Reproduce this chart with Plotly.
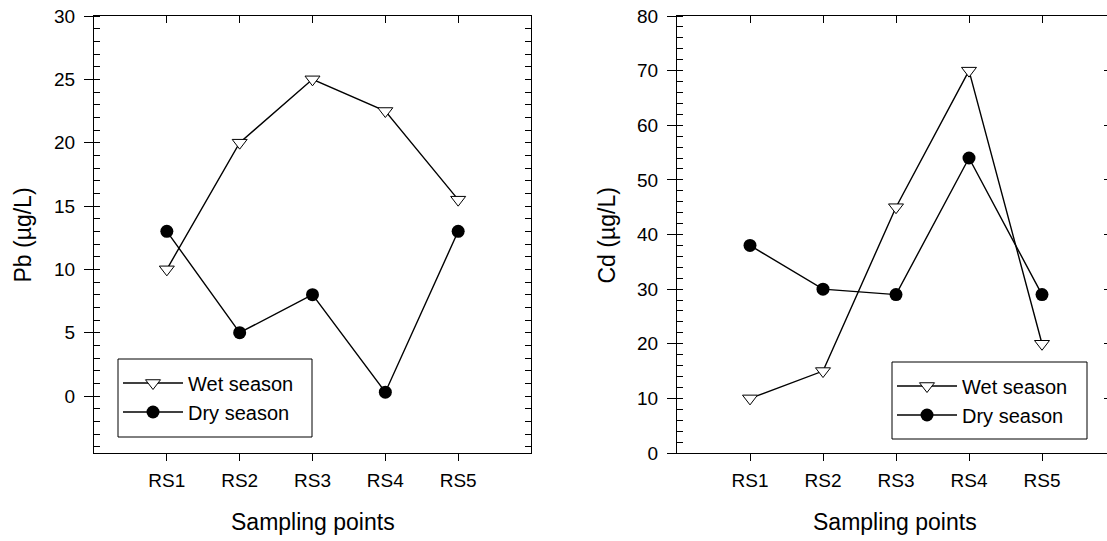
import plotly.graph_objects as go

W, H = 1107, 541

sites = ["RS1", "RS2", "RS3", "RS4", "RS5"]
site_pos = [1, 2, 3, 4, 5]

pb_wet = [10, 20, 25, 22.5, 15.5]
pb_dry = [13, 5, 8, 0.3, 13]

cd_wet = [10, 15, 45, 70, 20]
cd_dry = [38, 30, 29, 54, 29]

FONT = "Liberation Sans, Arial, sans-serif"
TICKF = 19
TITLEF = 23
LEGF = 20

def px(x):
    return x / W

def py(y):
    return 1 - y / H

L_dom = [px(94), px(531)]
R_dom = [px(677), 1.0]
Y_dom = [py(453), py(16)]

wet_marker = dict(symbol="triangle-down", size=13, color="white", line=dict(color="black", width=1))
dry_marker = dict(symbol="circle", size=13, color="black", line=dict(color="black", width=0))
line_style = dict(color="black", width=1.4)

fig = go.Figure()
fig.add_trace(go.Scatter(x=site_pos, y=pb_wet, mode="lines+markers", name="Wet season",
                         marker=wet_marker, line=line_style, xaxis="x", yaxis="y", legend="legend"))
fig.add_trace(go.Scatter(x=site_pos, y=pb_dry, mode="lines+markers", name="Dry season",
                         marker=dry_marker, line=line_style, xaxis="x", yaxis="y", legend="legend"))
fig.add_trace(go.Scatter(x=site_pos, y=cd_wet, mode="lines+markers", name="Wet season",
                         marker=wet_marker, line=line_style, xaxis="x2", yaxis="y2", legend="legend2"))
fig.add_trace(go.Scatter(x=site_pos, y=cd_dry, mode="lines+markers", name="Dry season",
                         marker=dry_marker, line=line_style, xaxis="x2", yaxis="y2", legend="legend2"))

# empty traces so the frame (top / right) axes are drawn
for xa, ya in [("x3", "y"), ("x", "y3"), ("x4", "y2"), ("x2", "y4")]:
    fig.add_trace(go.Scatter(x=[], y=[], xaxis=xa, yaxis=ya, showlegend=False, hoverinfo="skip"))

tickfont = dict(family=FONT, size=TICKF, color="black")
xr_left = [0, 6]
xr_right = [0, (1107 - 677) / 73.0]
yr_left = [-4.5, 30]
yr_right = [0, 80]

common_x = dict(tickmode="array", tickvals=site_pos, ticktext=sites, showgrid=False, zeroline=False,
                showline=True, linecolor="black", linewidth=1, tickcolor="black", tickwidth=1,
                tickfont=tickfont, fixedrange=True, automargin=False)

fig.update_layout(
    template="none",
    width=W, height=H, autosize=False,
    margin=dict(l=0, r=0, t=0, b=0, pad=0),
    paper_bgcolor="white", plot_bgcolor="white",
    font=dict(family=FONT, color="black"),
    xaxis=dict(common_x, domain=L_dom, range=xr_left, anchor="y", ticks="outside", ticklen=7,
               ticklabelstandoff=3),
    xaxis2=dict(common_x, domain=R_dom, range=xr_right, anchor="y2", ticks="outside", ticklen=7,
                ticklabelstandoff=3),
    xaxis3=dict(common_x, overlaying="x", anchor="y", side="top", range=xr_left,
                ticks="inside", ticklen=7, showticklabels=False),
    xaxis4=dict(common_x, overlaying="x2", anchor="y2", side="top", range=xr_right,
                ticks="inside", ticklen=7, showticklabels=False),
    yaxis=dict(domain=Y_dom, range=yr_left, anchor="x", tickmode="array", tickvals=[0, 5, 10, 15, 20, 25, 30],
               ticks="outside", ticklen=9, tickcolor="black", showline=True, linecolor="black",
               showgrid=False, zeroline=False, tickfont=tickfont, fixedrange=True, automargin=False,
               ticklabelstandoff=5,
               minor=dict(ticks="inside", tickmode="linear", tick0=0, dtick=1, ticklen=6,
                          tickcolor="black", showgrid=False)),
    yaxis2=dict(domain=Y_dom, range=yr_right, anchor="x2", tickmode="linear", tick0=0, dtick=10,
                ticks="outside", ticklen=9, tickcolor="black", showline=True, linecolor="black",
                showgrid=False, zeroline=False, tickfont=tickfont, fixedrange=True, automargin=False,
                ticklabelstandoff=5,
                minor=dict(ticks="inside", tickmode="linear", tick0=0, dtick=2, ticklen=6,
                           tickcolor="black", showgrid=False)),
    yaxis3=dict(overlaying="y", anchor="x", side="right", range=yr_left, tickmode="linear", tick0=0, dtick=1,
                ticks="inside", ticklen=6, tickcolor="black", showline=True, linecolor="black",
                showgrid=False, zeroline=False, showticklabels=False, fixedrange=True, automargin=False),
    yaxis4=dict(overlaying="y2", anchor="x2", side="right", range=yr_right, tickmode="linear", tick0=0, dtick=10,
                ticks="inside", ticklen=3, tickcolor="black", showline=False,
                showgrid=False, zeroline=False, showticklabels=False, fixedrange=True, automargin=False),
    legend=dict(x=px(118), y=py(363.5), xanchor="left", yanchor="top", bgcolor="rgba(0,0,0,0)",
                borderwidth=0, font=dict(family=FONT, size=LEGF, color="black"),
                tracegroupgap=0, itemwidth=60),
    legend2=dict(x=px(892), y=py(366.5), xanchor="left", yanchor="top", bgcolor="rgba(0,0,0,0)",
                 borderwidth=0, font=dict(family=FONT, size=LEGF, color="black"),
                 tracegroupgap=0, itemwidth=60),
    showlegend=True,
)

# legend frames
fig.add_shape(type="rect", xref="paper", yref="paper", x0=px(118), x1=px(312), y0=py(437), y1=py(359),
              line=dict(color="black", width=1), fillcolor="white", layer="below")
fig.add_shape(type="rect", xref="paper", yref="paper", x0=px(892), x1=px(1087), y0=py(439), y1=py(362),
              line=dict(color="black", width=1), fillcolor="white", layer="below")

title_font = dict(family=FONT, size=TITLEF, color="black")
fig.add_annotation(text="Pb (µg/L)", x=px(22), y=py(235.5), xref="paper", yref="paper",
                   textangle=-90, showarrow=False, font=title_font, xanchor="center", yanchor="middle")
fig.add_annotation(text="Cd (µg/L)", x=px(606), y=py(235.5), xref="paper", yref="paper",
                   textangle=-90, showarrow=False, font=title_font, xanchor="center", yanchor="middle")
fig.add_annotation(text="Sampling points", x=px(312.5), y=py(522), xref="paper", yref="paper",
                   showarrow=False, font=title_font, xanchor="center", yanchor="middle")
fig.add_annotation(text="Sampling points", x=px(895), y=py(522), xref="paper", yref="paper",
                   showarrow=False, font=title_font, xanchor="center", yanchor="middle")

fig.write_html("out.html", config={"displayModeBar": False})
